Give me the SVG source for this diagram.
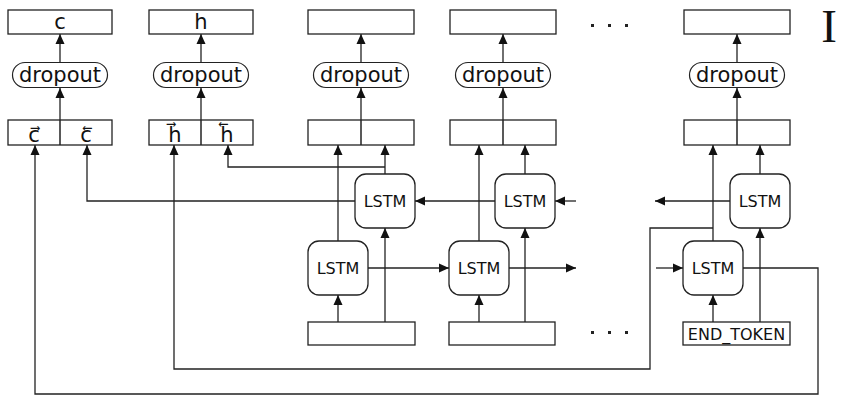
<svg xmlns="http://www.w3.org/2000/svg" width="844" height="396" viewBox="0 0 844 396">
  <style>
    .box { fill: #fff; stroke: #222; stroke-width: 1.3; }
    .div { stroke: #222; stroke-width: 1.5; }
    .pill { fill: #fff; stroke: #222; stroke-width: 1.2; }
    .lstm { fill: #fff; stroke: #222; stroke-width: 1.3; }
    .arr { fill: none; stroke: #222; stroke-width: 1.3; marker-end: url(#head); }
    text { font-family: "DejaVu Sans", "Liberation Sans", sans-serif; fill: #111; text-anchor: middle; }
    .lbl { font-size: 21px; }
    .small { font-size: 16px; }
    .dot { fill: #222; }
  </style>
  <defs>
    <marker id="head" markerUnits="userSpaceOnUse" markerWidth="10" markerHeight="10" refX="10" refY="5" orient="auto">
      <path d="M0,0.5 L10,5 L0,9.5 z" fill="#111"/>
    </marker>
  </defs>

  <!-- connectors -->
  <g id="connectors">
    <!-- split boxes up to dropout, dropout up to outputs -->
    <path class="arr" d="M60,120 V88"/>
    <path class="arr" d="M60,62 V34"/>
    <path class="arr" d="M201,120 V88"/>
    <path class="arr" d="M201,62 V34"/>
    <path class="arr" d="M361,120 V88"/>
    <path class="arr" d="M361,62 V34"/>
    <path class="arr" d="M503,120 V88"/>
    <path class="arr" d="M503,62 V34"/>
    <path class="arr" d="M737,120 V88"/>
    <path class="arr" d="M737,62 V34"/>

    <!-- final states routed to c and h -->
    <path class="arr" d="M743,268 H818 V394 H35 V145"/>
    <path class="arr" d="M355,201 H87 V145"/>
    <path class="arr" d="M713,228 H650 V369 H174 V145"/>
    <path class="arr" d="M385,167 H228 V145"/>

    <!-- LSTM outputs into concatenation boxes -->
    <path class="arr" d="M338,241 V145"/>
    <path class="arr" d="M385,174 V145"/>
    <path class="arr" d="M479,241 V145"/>
    <path class="arr" d="M525,174 V145"/>
    <path class="arr" d="M713,241 V145"/>
    <path class="arr" d="M760,174 V145"/>

    <!-- backward recurrence -->
    <path class="arr" d="M495,201 H415"/>
    <path class="arr" d="M576,201 H555"/>
    <path class="arr" d="M730,201 H655"/>
    <!-- forward recurrence -->
    <path class="arr" d="M368,268 H449"/>
    <path class="arr" d="M509,268 H576"/>
    <path class="arr" d="M656,268 H683"/>

    <!-- inputs -->
    <path class="arr" d="M338,322 V295"/>
    <path class="arr" d="M385,322 V228"/>
    <path class="arr" d="M479,322 V295"/>
    <path class="arr" d="M525,322 V228"/>
    <path class="arr" d="M713,322 V295"/>
    <path class="arr" d="M760,322 V228"/>
  </g>

  <!-- output boxes -->
  <g id="out-c"><rect class="box" x="8" y="10" width="104" height="24"/><text class="lbl" x="60" y="29">c</text></g>
  <g id="out-h"><rect class="box" x="149" y="10" width="104" height="24"/><text class="lbl" x="201" y="29">h</text></g>
  <g id="out-1"><rect class="box" x="308" y="10" width="106" height="24"/></g>
  <g id="out-2"><rect class="box" x="450" y="10" width="106" height="24"/></g>
  <g id="out-n"><rect class="box" x="684" y="10" width="106" height="24"/></g>

  <!-- dropout -->
  <g id="drop-c"><rect class="pill" x="12.5" y="62.5" width="95" height="25" rx="12.5"/><text class="lbl" x="60" y="82">dropout</text></g>
  <g id="drop-h"><rect class="pill" x="153.5" y="62.5" width="95" height="25" rx="12.5"/><text class="lbl" x="201" y="82">dropout</text></g>
  <g id="drop-1"><rect class="pill" x="313.5" y="62.5" width="95" height="25" rx="12.5"/><text class="lbl" x="361" y="82">dropout</text></g>
  <g id="drop-2"><rect class="pill" x="455.5" y="62.5" width="95" height="25" rx="12.5"/><text class="lbl" x="503" y="82">dropout</text></g>
  <g id="drop-n"><rect class="pill" x="689.5" y="62.5" width="95" height="25" rx="12.5"/><text class="lbl" x="737" y="82">dropout</text></g>

  <!-- concatenation boxes -->
  <g id="cat-c"><rect class="box" x="8" y="120" width="104" height="25"/><line class="div" x1="60" y1="120" x2="60" y2="145"/>
    <text class="lbl" x="34" y="142">c⃗</text><text class="lbl" x="86" y="142">c⃖</text></g>
  <g id="cat-h"><rect class="box" x="149" y="120" width="104" height="25"/><line class="div" x1="201" y1="120" x2="201" y2="145"/>
    <text class="lbl" x="175" y="142">h⃗</text><text class="lbl" x="227" y="142">h⃖</text></g>
  <g id="cat-1"><rect class="box" x="308" y="120" width="106" height="25"/><line class="div" x1="361" y1="120" x2="361" y2="145"/></g>
  <g id="cat-2"><rect class="box" x="450" y="120" width="106" height="25"/><line class="div" x1="503" y1="120" x2="503" y2="145"/></g>
  <g id="cat-n"><rect class="box" x="684" y="120" width="106" height="25"/><line class="div" x1="737" y1="120" x2="737" y2="145"/></g>

  <!-- backward LSTMs -->
  <g id="lstm-b1"><rect class="lstm" x="355" y="174" width="60" height="54" rx="11"/><text class="small" x="385" y="207">LSTM</text></g>
  <g id="lstm-b2"><rect class="lstm" x="495" y="174" width="60" height="54" rx="11"/><text class="small" x="525" y="207">LSTM</text></g>
  <g id="lstm-bn"><rect class="lstm" x="730" y="174" width="60" height="54" rx="11"/><text class="small" x="760" y="207">LSTM</text></g>

  <!-- forward LSTMs -->
  <g id="lstm-f1"><rect class="lstm" x="308" y="241" width="60" height="54" rx="11"/><text class="small" x="338" y="274">LSTM</text></g>
  <g id="lstm-f2"><rect class="lstm" x="449" y="241" width="60" height="54" rx="11"/><text class="small" x="479" y="274">LSTM</text></g>
  <g id="lstm-fn"><rect class="lstm" x="683" y="241" width="60" height="54" rx="11"/><text class="small" x="713" y="274">LSTM</text></g>

  <!-- inputs -->
  <g id="in-1"><rect class="box" x="308" y="322" width="107" height="23"/></g>
  <g id="in-2"><rect class="box" x="449" y="322" width="106" height="23"/></g>
  <g id="in-end"><rect class="box" x="683" y="322" width="107" height="23"/><text class="small" x="736.5" y="340">END_TOKEN</text></g>

  <!-- ellipses -->
  <g id="dots-top"><rect class="dot" x="591" y="24" width="3" height="3"/><rect class="dot" x="608" y="24" width="3" height="3"/><rect class="dot" x="625" y="24" width="3" height="3"/></g>
  <g id="dots-bottom"><rect class="dot" x="591" y="331" width="3" height="3"/><rect class="dot" x="608" y="331" width="3" height="3"/><rect class="dot" x="625" y="331" width="3" height="3"/></g>

  <!-- panel label -->
  <text x="829" y="42" style="font-family: 'Liberation Serif', serif; font-size: 47px; fill: #111; text-anchor: middle;">I</text>
</svg>
